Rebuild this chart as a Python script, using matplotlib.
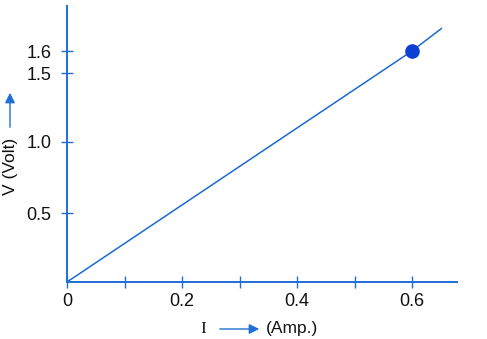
import matplotlib
matplotlib.use("Agg")
import matplotlib.pyplot as plt
import numpy as np

plt.rcParams["font.family"] = ["Liberation Sans", "DejaVu Sans"]

# data
line_x = [0.0, 0.6, 0.652]
line_slope = 1.6 / 0.6
point_x = [0.6]
point_y = [1.6]
xticks_major = [0, 0.2, 0.4, 0.6]
xtick_labels = ["0", "0.2", "0.4", "0.6"]
xticks_minor = [0.1, 0.3, 0.5]
yticks = [0.5, 1.0, 1.5, 1.6]
ytick_labels = ["0.5", "1.0", "1.5", "1.6"]

axc = "#1f6fd6"
linec = "#1a6ad0"
dotc = "#0b3fd6"

# hand-drawn style vertical scale (as in the original figure)
_v = np.array([0.0, 0.5, 1.0, 1.5, 1.6, 1.9])
_p = np.array([0.0, 69.0, 140.0, 209.0, 231.0, 280.5])


def fwd(v):
    return np.interp(v, _v, _p)


def inv(p):
    return np.interp(p, _p, _v)


fig = plt.figure(figsize=(4.87, 3.39), dpi=100)
ax = fig.add_axes([67/487, 57/339, 390/487, 276/339])
ax.set_yscale("function", functions=(fwd, inv))
ax.set_xlim(0, 390/575)
ax.set_ylim(0, inv(276))

ly = [x * line_slope for x in line_x]
ax.plot(line_x, ly, color=linec, lw=1.1, solid_capstyle="butt")
ax.scatter(point_x, point_y, s=90, color=dotc, zorder=5, edgecolors=dotc)

for s in ["top", "right"]:
    ax.spines[s].set_visible(False)
for s in ["left", "bottom"]:
    ax.spines[s].set_color(axc)
    ax.spines[s].set_linewidth(1.4)

ax.set_xticks(xticks_major)
ax.set_xticklabels(xtick_labels)
ax.set_xticks(xticks_minor, minor=True)
ax.set_yticks(yticks)
ax.set_yticklabels(ytick_labels)
ax.yaxis.set_minor_locator(matplotlib.ticker.NullLocator())
ax.tick_params(axis="both", which="both", direction="inout", color=axc,
               length=8, width=1.0, labelsize=13, labelcolor="#111111")
ax.tick_params(axis="x", pad=4)
ax.tick_params(axis="y", pad=7)

# y label with arrow
fig.text(10/487, 1 - 166/339, "V (Volt)", rotation=90, ha="center", va="center",
         fontsize=12.5, color="#111111")
fig.add_artist(matplotlib.patches.FancyArrowPatch(
    (10/487, 1 - 130/339), (10/487, 1 - 90/339), transform=fig.transFigure,
    arrowstyle="-|>,head_length=6,head_width=3", color=axc, lw=1.0,
    mutation_scale=1))

# x label with arrow
fig.text(203/487, 1 - 329/339, "I", ha="center", va="center", fontsize=12.5,
         family="Liberation Serif", color="#111111")
fig.add_artist(matplotlib.patches.FancyArrowPatch(
    (217/487, 1 - 329/339), (262/487, 1 - 329/339), transform=fig.transFigure,
    arrowstyle="-|>,head_length=6,head_width=3", color=axc, lw=1.0,
    mutation_scale=1))
fig.text(266/487, 1 - 329/339, "(Amp.)", ha="left", va="center", fontsize=12.5,
         color="#111111")

fig.savefig("out.png", dpi=100)
